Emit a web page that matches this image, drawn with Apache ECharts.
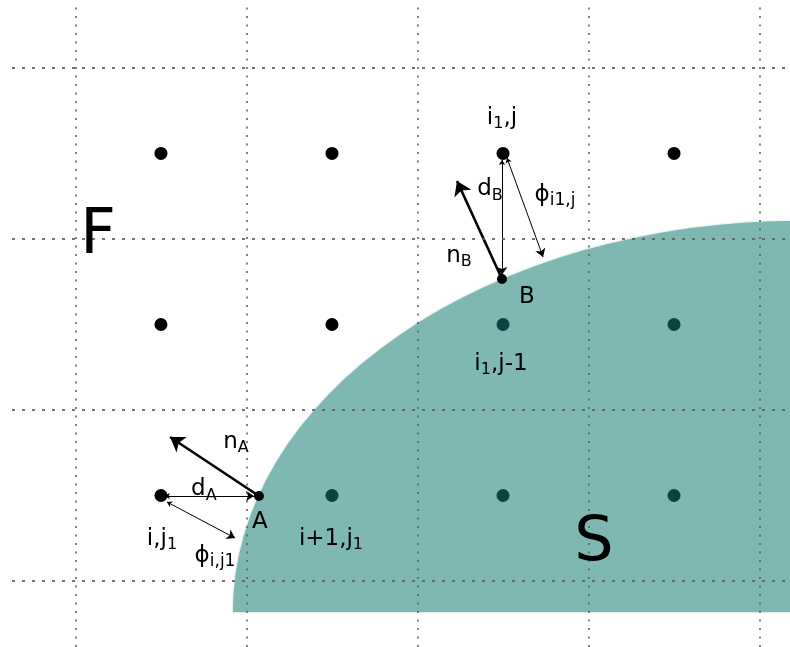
<!DOCTYPE html>
<html>
<head>
<meta charset="utf-8">
<script src="https://cdn.jsdelivr.net/npm/echarts@6/dist/echarts.min.js"></script>
<style>
  html, body { margin: 0; padding: 0; background: #fff; }
  #main { width: 790px; height: 647px; }
</style>
</head>
<body>
<div id="main"></div>
<script>
// everything is in grid-cell units: cell lines on integers, nodes on half integers
var gridX = [0, 1, 2, 3, 4];
var gridY = [0, 1, 2, 3];

var fluidNodes = [[0.5, 2.5], [1.5, 2.5], [2.5, 2.5], [3.5, 2.5], [0.5, 1.5], [1.5, 1.5], [0.5, 0.5]];
var solidNodes = [[2.5, 1.5], [3.5, 1.5], [1.5, 0.5], [2.5, 0.5], [3.5, 0.5]];
var wallPoints = [[1.073, 0.497], [2.494, 1.766]]; // A, B

// solid body S: upper-left quarter of an ellipse
var solidCenter = [4.237, -0.181];
var solidRadii = [3.316, 2.287];

// normals n_A, n_B
var normalArrows = [
  [[1.073, 0.497], [0.553, 0.842]],
  [[2.494, 1.766], [2.231, 2.339]]
];
// d_A, phi_A, d_B, phi_B
var distArrows = [
  [[0.523, 0.497], [1.044, 0.497]],
  [[0.535, 0.462], [0.933, 0.251]],
  [[2.494, 2.462], [2.494, 1.789]],
  [[2.523, 2.474], [2.734, 1.895]]
];

var labels = [
  [0.132, 2.010, '{big|F}'],
  [3.032, 0.215, '{big|S}'],
  [2.494, 2.710, '{n|i}{s|1}{n|,j}'],
  [2.424, 2.290, '{n|d}{s|B}'],
  [2.804, 2.255, '{n|ϕ}{m|i1,j}'],
  [2.243, 1.900, '{n|n}{s|B}'],
  [2.640, 1.660, '{n|B}'],
  [2.488, 1.270, '{n|i}{s|1}{n|,j-1}'],
  [0.939, 0.815, '{n|n}{s|A}'],
  [0.751, 0.535, '{n|d}{s|A}'],
  [1.079, 0.345, '{n|A}'],
  [0.506, 0.245, '{n|i,j}{s|1}'],
  [0.816, 0.145, '{n|ϕ}{m|i,j1}'],
  [1.494, 0.245, '{n|i+1,j}{s|1}']
];

var FONT = 'DejaVu Sans';
var richStyles = {
  n: { fontSize: 23, lineHeight: 28, fontFamily: FONT, fill: '#000' },
  s: { fontSize: 16, lineHeight: 14, fontFamily: FONT, fill: '#000', verticalAlign: 'bottom' },
  m: { fontSize: 17, lineHeight: 24, fontFamily: FONT, fill: '#000', verticalAlign: 'bottom' },
  big: { fontSize: 62, lineHeight: 68, fontFamily: FONT, fill: '#000' }
};

var chartDom = document.getElementById('main');
var myChart = echarts.init(chartDom, null, { renderer: 'canvas' });

var gridLines = [];
gridX.forEach(function (v) {
  gridLines.push({ xAxis: v, lineStyle: { type: [2, 6.5] } });
});
gridY.forEach(function (v) {
  gridLines.push({ yAxis: v, lineStyle: { type: [3, 7] } });
});

var option = {
  backgroundColor: '#fff',
  animation: false,
  grid: { left: 12, top: 4, right: 0, bottom: 0 },
  xAxis: {
    type: 'value', min: -0.371, max: 4.178,
    show: false, splitLine: { show: false }
  },
  yAxis: {
    type: 'value', min: -0.386, max: 3.374,
    show: false, splitLine: { show: false }
  },
  series: [
    {
      // solid region
      type: 'custom',
      z: 1,
      silent: true,
      data: [solidCenter],
      renderItem: function (params, api) {
        var c = api.coord(solidCenter);
        var l = api.coord([solidCenter[0] - solidRadii[0], solidCenter[1]]);
        var t = api.coord([solidCenter[0], solidCenter[1] + solidRadii[1]]);
        var rx = c[0] - l[0];
        var ry = c[1] - t[1];
        var d = 'M' + l[0] + ' ' + l[1] +
          ' A' + rx + ' ' + ry + ' 0 0 1 ' + t[0] + ' ' + t[1] +
          ' L' + c[0] + ' ' + c[1] + ' Z';
        return {
          type: 'path',
          shape: { pathData: d },
          style: { fill: '#7fb8b2', stroke: null, shadowBlur: 2, shadowColor: 'rgba(127,184,178,0.8)' }
        };
      }
    },
    {
      // dotted cell lines
      type: 'line',
      z: 2,
      data: [],
      silent: true,
      markLine: {
        silent: true,
        symbol: ['none', 'none'],
        label: { show: false },
        lineStyle: { color: '#5a5a5a', width: 1.8, opacity: 0.85 },
        emphasis: { disabled: true },
        data: gridLines
      }
    },
    {
      type: 'lines',
      coordinateSystem: 'cartesian2d',
      z: 3,
      silent: true,
      symbol: ['none', 'arrow'],
      symbolSize: [9, 14],
      lineStyle: { color: '#000', width: 2.6, opacity: 1 },
      data: normalArrows.map(function (a) { return { coords: a }; })
    },
    {
      type: 'lines',
      coordinateSystem: 'cartesian2d',
      z: 3,
      silent: true,
      symbol: ['arrow', 'arrow'],
      symbolSize: [5, 8],
      lineStyle: { color: '#000', width: 1, opacity: 1 },
      data: distArrows.map(function (a) { return { coords: a }; })
    },
    {
      type: 'scatter',
      z: 4,
      silent: true,
      symbolSize: 13,
      itemStyle: { color: '#000', opacity: 1 },
      data: fluidNodes
    },
    {
      type: 'scatter',
      z: 4,
      silent: true,
      symbolSize: 13,
      itemStyle: { color: '#0a4340', opacity: 1 },
      data: solidNodes
    },
    {
      type: 'scatter',
      z: 4,
      silent: true,
      symbolSize: 10,
      itemStyle: { color: '#000', opacity: 1 },
      data: wallPoints
    },
    {
      type: 'custom',
      z: 5,
      silent: true,
      data: labels.map(function (l) { return [l[0], l[1]]; }),
      renderItem: function (params, api) {
        var p = api.coord([api.value(0), api.value(1)]);
        return {
          type: 'text',
          x: p[0],
          y: p[1],
          style: {
            text: labels[params.dataIndex][2],
            align: 'center',
            verticalAlign: 'middle',
            rich: richStyles,
            fill: '#000',
            fontFamily: FONT,
            fontSize: 23
          }
        };
      }
    }
  ]
};

myChart.setOption(option);
window.addEventListener('resize', myChart.resize);
</script>
</body>
</html>
